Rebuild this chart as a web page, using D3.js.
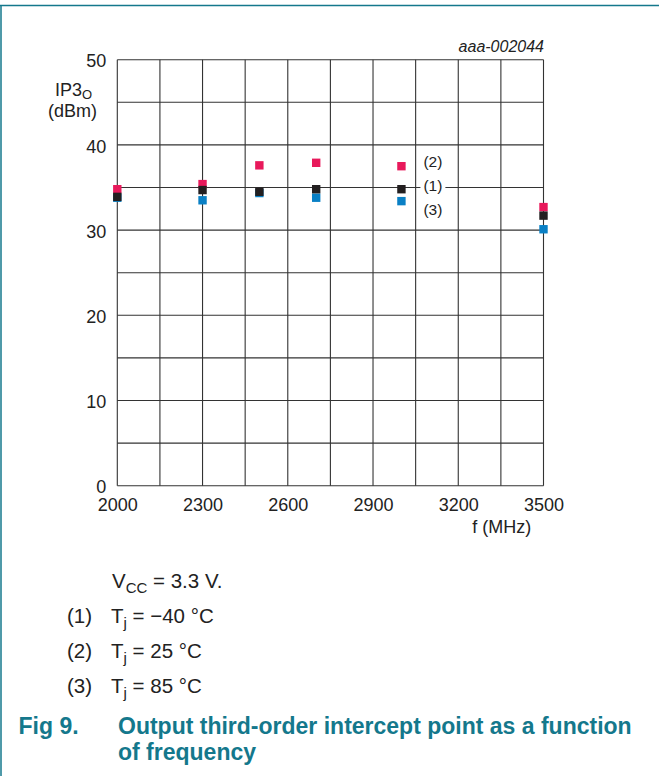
<!DOCTYPE html>
<html><head><meta charset="utf-8">
<script src="https://cdn.jsdelivr.net/npm/d3@7"></script>
<style>html,body{margin:0;padding:0;background:#fff;} svg{display:block;}</style>
</head><body><svg id="c" width="659" height="776"></svg>
<script>
// ---- data ----
const freqs = [2000, 2300, 2500, 2700, 3000, 3500];
const ip3Minus40 = [33.9, 34.7, 34.5, 34.8, 34.8, 31.7];   // (1) Tj = -40 °C
const ip3At25    = [34.8, 35.4, 37.6, 37.9, 37.5, 32.7];   // (2) Tj = 25 °C
const ip3At85    = [33.8, 33.5, 34.35, 33.8, 33.4, 30.1];  // (3) Tj = 85 °C
const xTicks = [2000, 2300, 2600, 2900, 3200, 3500];
const yTicks = [0, 10, 20, 30, 40, 50];
const seriesNames = ["(1)", "(2)", "(3)"];
const seriesLabelValues = [35.2, 38.0, 32.4];
const seriesColors = ["#231f20", "#e8195b", "#0a80c5"];
const captionLines = [["(1)", "−40 °C"], ["(2)", "25 °C"], ["(3)", "85 °C"]];

const FONT = "'Liberation Sans', Arial, Helvetica, sans-serif";
const TEAL = "#14788c";
const svg = d3.select("#c");

// frame
svg.append("line").attr("x1", 0).attr("x2", 659).attr("y1", 5.5).attr("y2", 5.5)
  .attr("stroke", TEAL).attr("stroke-width", 1.5);
svg.append("line").attr("x1", 1).attr("x2", 1).attr("y1", 5).attr("y2", 776)
  .attr("stroke", TEAL).attr("stroke-width", 1.5);

const x = d3.scaleLinear().domain([2000, 3500]).range([117.3, 543.5]);
const y = d3.scaleLinear().domain([0, 50]).range([485.7, 59.7]);

// grid
const grid = svg.append("g").attr("stroke", "#333").attr("stroke-width", 1.1);
grid.selectAll("line.v").data(d3.range(2000, 3501, 150)).join("line")
  .attr("x1", d => x(d)).attr("x2", d => x(d)).attr("y1", y(0)).attr("y2", y(50));
grid.selectAll("line.h").data(d3.range(0, 51, 5)).join("line").attr("class","h")
  .attr("x1", x(2000)).attr("x2", x(3500)).attr("y1", d => y(d)).attr("y2", d => y(d));

// axes (labels only)
const xAxis = svg.append("g").attr("transform", `translate(0,${y(0)})`)
  .call(d3.axisBottom(x).tickValues(xTicks).tickSize(0).tickPadding(13).tickFormat(d3.format("d")));
const yAxis = svg.append("g").attr("transform", `translate(${x(2000)},0)`)
  .call(d3.axisLeft(y).tickValues(yTicks).tickSize(0).tickPadding(11));
[xAxis, yAxis].forEach(a => {
  a.select(".domain").remove();
  a.selectAll("text").attr("font-family", FONT).attr("font-size", 18).attr("fill", "#222");
});
yAxis.selectAll("text").attr("dy", "0.4em");

// axis titles
svg.append("text").attr("x", 501.7).attr("y", 532.5).attr("text-anchor", "middle")
  .attr("font-family", FONT).attr("font-size", 18).attr("fill", "#222").text("f (MHz)");
const yl = svg.append("text").attr("x", 55).attr("y", 95.5)
  .attr("font-family", FONT).attr("font-size", 18).attr("fill", "#222");
yl.append("tspan").text("IP3");
yl.append("tspan").attr("dy", 3).attr("font-size", 13).text("O");
svg.append("text").attr("x", 48).attr("y", 117)
  .attr("font-family", FONT).attr("font-size", 18).attr("fill", "#222").text("(dBm)");

svg.append("text").attr("x", 544).attr("y", 52.3).attr("text-anchor", "end")
  .attr("font-family", FONT).attr("font-style", "italic").attr("font-size", 16).attr("fill", "#222")
  .text("aaa-002044");

// series labels with white background
seriesNames.forEach((nm, i) => {
  const g = svg.append("g");
  const t = g.append("text").attr("x", x(3000) + 22).attr("y", y(seriesLabelValues[i]))
    .attr("dy", "0.35em").attr("font-family", FONT).attr("font-size", 15.5).attr("fill", "#222").text(nm);
  const b = t.node().getBBox();
  g.insert("rect", "text").attr("x", b.x - 3).attr("y", b.y).attr("width", b.width + 6)
    .attr("height", b.height).attr("fill", "#fff");
});

// markers: blue, red, black (black on top)
const series = [
  {vals: ip3At85, color: seriesColors[2]},
  {vals: ip3At25, color: seriesColors[1]},
  {vals: ip3Minus40, color: seriesColors[0]}
];
const S = 8.4;
series.forEach(s => {
  svg.append("g").selectAll("rect").data(freqs.map((f, i) => [f, s.vals[i]])).join("rect")
    .attr("x", d => x(d[0]) - S / 2).attr("y", d => y(d[1]) - S / 2)
    .attr("width", S).attr("height", S).attr("fill", s.color);
});

// caption
const cap = svg.append("g").attr("font-family", FONT).attr("font-size", 20.5).attr("fill", "#222");
const v = cap.append("text").attr("x", 112).attr("y", 588);
v.append("tspan").text("V");
v.append("tspan").attr("dy", 5).attr("font-size", 15).text("CC");
v.append("tspan").attr("dy", -5).text(" = 3.3 V.");
captionLines.forEach((c, i) => {
  const yy = 623 + i * 35;
  cap.append("text").attr("x", 67).attr("y", yy).text(c[0]);
  const t = cap.append("text").attr("x", 111).attr("y", yy);
  t.append("tspan").text("T");
  t.append("tspan").attr("dy", 5).attr("font-size", 15).text("j");
  t.append("tspan").attr("dy", -5).text(" = " + c[1]);
});

const title = svg.append("g").attr("font-family", FONT).attr("font-weight", "bold")
  .attr("font-size", 23).attr("fill", TEAL);
title.append("text").attr("x", 18.5).attr("y", 734).text("Fig 9.");
title.append("text").attr("x", 118).attr("y", 734).text("Output third-order intercept point as a function");
title.append("text").attr("x", 118).attr("y", 760).text("of frequency");
</script></body></html>
